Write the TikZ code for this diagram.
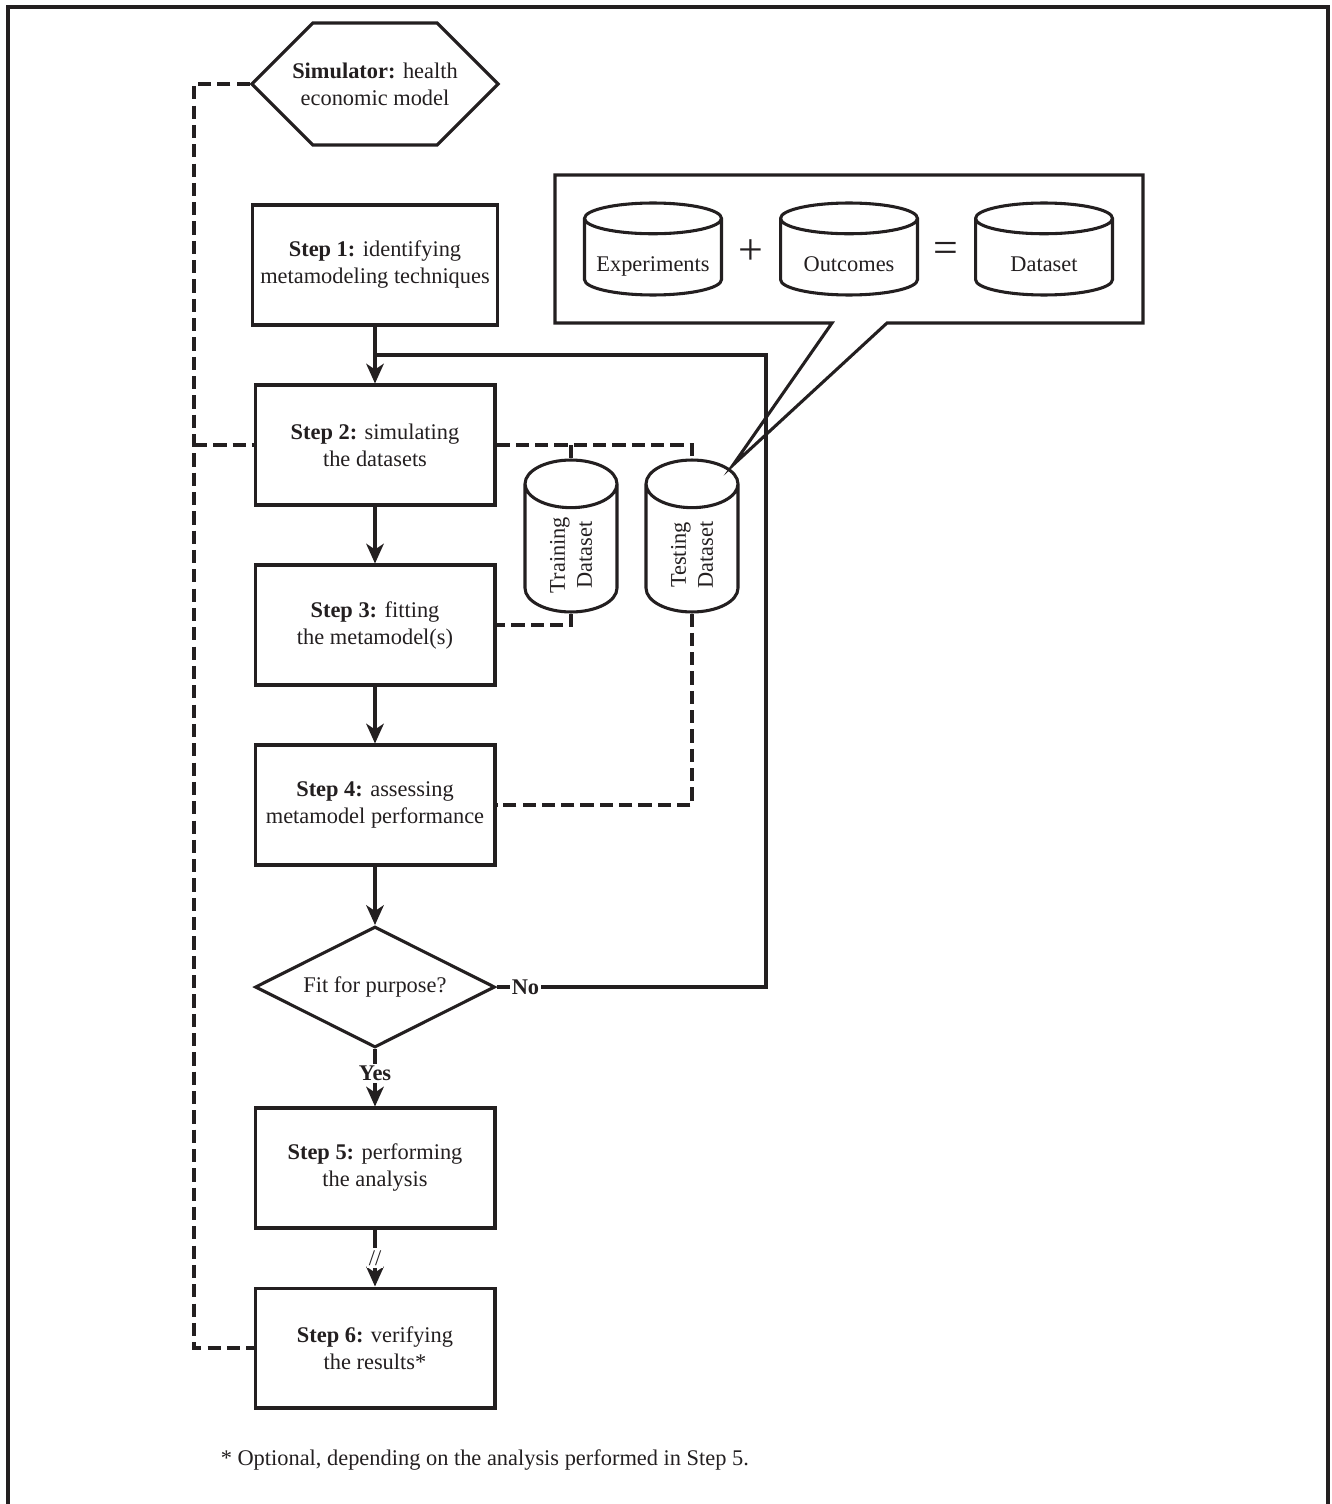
\documentclass[tikz,border=0pt]{standalone}
\usepackage{fontspec}
\setmainfont{Liberation Serif}
\usetikzlibrary{arrows.meta,shapes.geometric,shapes.symbols}
\definecolor{ink}{RGB}{35,31,32}

\begin{document}
\begin{tikzpicture}[x=0.016cm,y=-0.016cm,
    every node/.style={font=\fontsize{10.2}{12.3}\selectfont, text=ink},
    thickline/.style={draw=ink, line width=1.4pt},
    link/.style={thickline, dash pattern=on 6pt off 2.8pt},
    flow/.style={thickline, -{Stealth[length=9pt,width=8pt,inset=2.6pt]}},
    stepbox/.style={thickline, rectangle, minimum width=3.84cm, minimum height=1.92cm, align=center},
    dbcyl/.style={thickline, cylinder, anchor=shape center, align=center},
    flatdb/.style={dbcyl, shape border rotate=90, aspect=2.1, minimum width=2.192cm, minimum height=1.472cm,
                   text height=10pt, text depth=0pt}]
  \useasboundingbox (0,0) rectangle (1331,1504);
  \draw[thickline, line width=1.6pt] (8,1504) |- (1328,7) -- (1328,1504);

  % main steps
  \node[thickline, signal, signal to=east and west, signal pointer angle=90, inner xsep=-0.33cm,
        minimum width=3.84cm, minimum height=1.952cm, align=center] (sim) at (375,84)
        {\textbf{Simulator:} health\\economic model};
  \node[stepbox] (s1) at (375,265) {\textbf{Step 1:} identifying\\metamodeling techniques};
  \node[stepbox] (s2) at (375,445) {\textbf{Step 2:} simulating\\the datasets};
  \node[stepbox] (s3) at (375,625) {\textbf{Step 3:} fitting\\the metamodel(s)};
  \node[stepbox] (s4) at (375,805) {\textbf{Step 4:} assessing\\metamodel performance};
  \node[thickline, diamond, aspect=2, minimum width=3.84cm, minimum height=1.936cm] (fit) at (375,987) {Fit for purpose?};
  \node[stepbox] (s5) at (375,1168) {\textbf{Step 5:} performing\\the analysis};
  \node[stepbox] (s6) at (375,1348) {\textbf{Step 6:} verifying\\the results*};

  % datasets
  \node[dbcyl, rotate=90, aspect=0.84, minimum width=1.472cm, minimum height=2.432cm] (train) at (571,536) {Training\\Dataset};
  \node[dbcyl, rotate=90, aspect=0.84, minimum width=1.472cm, minimum height=2.432cm] (test) at (692,536) {Testing\\Dataset};

  % callout
  \draw[thickline] (555,175) -| (1143,323) -- (887,323) -- (733,465) -- (832,323) -- (555,323) -- cycle;
  \node[flatdb] (exp) at (653,249) {\makebox[0pt]{Experiments}};
  \node[flatdb] (out) at (849,249) {\makebox[0pt]{Outcomes}};
  \node[flatdb] (data) at (1044,249) {\makebox[0pt]{Dataset}};
  \node (plus) at (751,252) {\fontsize{20}{20}\selectfont +};
  \node (eq) at (946,252) {\fontsize{20}{20}\selectfont =};

  \node[anchor=west] (note) at (213,1460) {* Optional, depending on the analysis performed in Step 5.};

  % flow
  \draw[flow] (s1) -- (s2);
  \draw[flow] (s2) -- (s3);
  \draw[flow] (s3) -- (s4);
  \draw[flow] (s4) -- (fit);
  \draw[flow] (fit) -- node[pos=0.42, fill=white, inner sep=1pt]{\textbf{Yes}} (s5);
  \draw[flow] (s5) -- node[pos=0.5, fill=white, inner sep=1pt]{//} (s6);

  \coordinate (turn) at (766,355);
  \draw[thickline] (fit.east) -- node[fill=white, inner sep=1pt]{\textbf{No}} ++(58,0) -| (turn) -- (turn -| s1.south);

  % data links
  \coordinate (lft) at (194,1348);
  \draw[link] (sim.west) -| (lft) -- (s6.west);
  \draw[link] (s2.west -| lft) -- (s2.west);
  \draw[link] (s2.east) -| (test.top);
  \draw[link] (train.top) -- (train.top |- s2.east);
  \draw[link] (train.bottom) |- (s3.east);
  \draw[link] (test.bottom) |- (s4.east);
\end{tikzpicture}
\end{document}
